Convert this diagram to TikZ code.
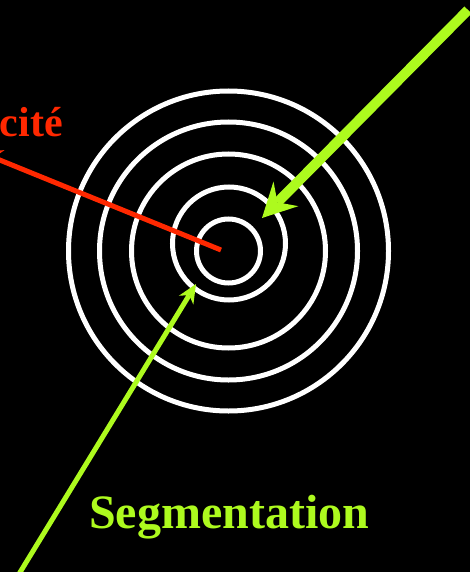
\documentclass[tikz,border=0pt]{standalone}
\usepackage{fontspec}
\setmainfont{Liberation Serif}
\usetikzlibrary{arrows.meta}
\definecolor{segreen}{RGB}{173,250,30}
\definecolor{elared}{RGB}{255,40,0}
\tikzset{
  ring/.style={white, line width=5pt},
  elaline/.style={elared, line width=5pt},
  segline/.style={segreen, line width=5pt},
  elatext/.style={elared, inner sep=0pt, font=\fontsize{42}{46}\selectfont\bfseries},
  segtext/.style={segreen, inner sep=0pt, font=\fontsize{48}{52}\selectfont\bfseries}
}

\begin{document}
\begin{tikzpicture}[>=Stealth, x=1pt, y=-1pt]
  % Background
  \useasboundingbox (0,0) rectangle (470,572);
  \fill[black] (0,0) rectangle (470,572);
  \clip (0,0) rectangle (470,572);

  % Concentric rings
  \coordinate (centre) at (228.5,251);
  \foreach \r in {160,129,97,32}{
    \draw[ring] (centre) circle[radius=\r pt];
  }
  \coordinate (midring) at (229,243.5);
  \draw[ring] (midring) circle[radius=56.5pt];

  % Labels
  \node[elatext, anchor=base east] (elas) at (63,137) {Elasticité};
  \node[segtext, anchor=base west] (seg) at (89,528) {Segmentation};

  % Red line towards the label
  \coordinate (redstart) at (221,250);
  \coordinate (redtip) at (-20,152);
  \draw[elaline, -{Stealth[length=22pt, width=22pt, inset=7pt, line width=0pt]}]
    (redstart) -- (redtip);

  % Thick green arrow
  \coordinate (bigstart) at (468,10);
  \coordinate (bigtip) at (262,218);
  \draw[segline, line width=10pt,
        -{Stealth[length=34pt, width=35pt, inset=12pt, line width=0pt]}]
    (bigstart) -- (bigtip);

  % Thin green arrow
  \coordinate (smallstart) at (19,574);
  \coordinate (smalltip) at (196,284);
  \draw[segline, -{Stealth[length=19pt, width=17pt, inset=6pt, line width=0pt]}]
    (smallstart) -- (smalltip);
\end{tikzpicture}
\end{document}
